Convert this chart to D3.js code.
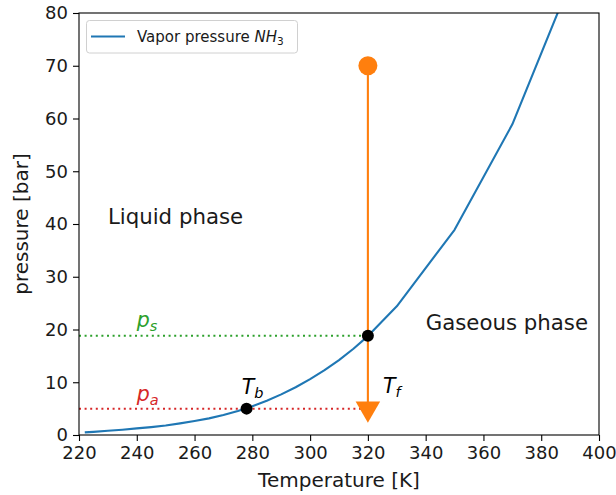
<!DOCTYPE html>
<html>
<head>
<meta charset="utf-8">
<script src="https://cdn.jsdelivr.net/npm/d3@7"></script>
<style>
  html, body { margin: 0; padding: 0; background: #fff; }
  svg { display: block; font-family: "DejaVu Sans", sans-serif; }
</style>
</head>
<body>
<svg id="chart" width="616" height="495"></svg>
<script>
// Saturation (vapor) pressure of ammonia, bar
const temperatures = [222, 225, 230, 235, 240, 245, 250, 255, 260, 265, 270, 275, 280, 285, 290, 295, 300, 305, 310, 315, 320, 330, 350, 370, 390];
const pressures    = [0.5, 0.6, 0.8, 1.0, 1.25, 1.5, 1.8, 2.2, 2.65, 3.15, 3.8, 4.55, 5.45, 6.5, 7.7, 9.05, 10.6, 12.3, 14.2, 16.35, 18.75, 24.4, 38.9, 58.9, 85.8];

const xTickValues = [220, 240, 260, 280, 300, 320, 340, 360, 380, 400];
const yTickValues = [0, 10, 20, 30, 40, 50, 60, 70, 80];

// Process points
const Tb = 278;      // boiling temperature at p_a
const Tf = 320;      // temperature at which p_s is reached
const pa = 5.0;      // low pressure level
const ps = 18.8;     // saturation pressure at Tf
const pStart = 70;   // starting pressure of the expansion

const svg = d3.select("#chart");
const margin = { left: 79, right: 17, top: 13, bottom: 60 };
const W = 616, H = 495;

const x = d3.scaleLinear().domain([220, 400]).range([margin.left, W - margin.right]);
const y = d3.scaleLinear().domain([0, 80]).range([H - margin.bottom, margin.top]);

const blue = "#1f77b4", orange = "#ff7f0e", green = "#2ca02c", red = "#d62728";
const ink = "#1a1a1a";

svg.append("defs").append("clipPath").attr("id", "plotClip")
  .append("rect")
  .attr("x", x(220)).attr("y", y(80))
  .attr("width", x(400) - x(220)).attr("height", y(0) - y(80));

const plot = svg.append("g").attr("clip-path", "url(#plotClip)");

// Dotted reference levels
plot.append("line")
  .attr("x1", x(220)).attr("x2", x(Tf))
  .attr("y1", y(ps)).attr("y2", y(ps))
  .attr("stroke", green).attr("stroke-width", 2).attr("stroke-dasharray", "2,3.6");
plot.append("line")
  .attr("x1", x(220)).attr("x2", x(Tf))
  .attr("y1", y(pa)).attr("y2", y(pa))
  .attr("stroke", red).attr("stroke-width", 2).attr("stroke-dasharray", "2,3.6");

// Vapor pressure curve
const line = d3.line().x((d, i) => x(temperatures[i])).y(d => y(d));
plot.append("path")
  .datum(pressures)
  .attr("d", line)
  .attr("fill", "none")
  .attr("stroke", blue).attr("stroke-width", 2.1)
  .attr("stroke-linejoin", "round");

// Expansion path from pStart down to pa
plot.append("line")
  .attr("x1", x(Tf)).attr("x2", x(Tf))
  .attr("y1", y(pStart)).attr("y2", y(pa))
  .attr("stroke", orange).attr("stroke-width", 2.1);
plot.append("circle")
  .attr("cx", x(Tf)).attr("cy", y(pStart)).attr("r", 9.5)
  .attr("fill", orange);
plot.append("path")
  .attr("d", d3.symbol().type(d3.symbolTriangle).size(260))
  .attr("transform", `translate(${x(Tf)},${y(pa)}) rotate(180)`)
  .attr("fill", orange);

// Marked states
plot.selectAll("circle.state")
  .data([[Tb, pa], [Tf, ps]])
  .join("circle")
  .attr("class", "state")
  .attr("cx", d => x(d[0])).attr("cy", d => y(d[1])).attr("r", 6)
  .attr("fill", "#000");

// Axes
const tickFont = 18;
const xAxis = svg.append("g")
  .attr("transform", `translate(0,${y(0)})`)
  .call(d3.axisBottom(x).tickValues(xTickValues).tickSize(6).tickPadding(5).tickFormat(d3.format("d")));
const yAxis = svg.append("g")
  .attr("transform", `translate(${x(220)},0)`)
  .call(d3.axisLeft(y).tickValues(yTickValues).tickSize(6).tickPadding(5).tickFormat(d3.format("d")));
[xAxis, yAxis].forEach(a => {
  a.select(".domain").remove();
  a.selectAll(".tick line").attr("stroke", "#000").attr("stroke-width", 1.1);
  a.selectAll(".tick text").attr("fill", ink).attr("font-size", tickFont)
    .attr("font-family", "DejaVu Sans, sans-serif");
});

// Frame
svg.append("rect")
  .attr("x", x(220)).attr("y", y(80))
  .attr("width", x(400) - x(220)).attr("height", y(0) - y(80))
  .attr("fill", "none").attr("stroke", "#000").attr("stroke-width", 1.1);

// Axis titles
svg.append("text")
  .attr("x", (x(220) + x(400)) / 2).attr("y", 487)
  .attr("text-anchor", "middle").attr("font-size", 20).attr("fill", ink)
  .text("Temperature [K]");
svg.append("text")
  .attr("transform", `translate(28,${(y(0) + y(80)) / 2}) rotate(-90)`)
  .attr("text-anchor", "middle").attr("font-size", 20).attr("fill", ink)
  .text("pressure [bar]");

// Phase labels
svg.append("text").attr("x", x(230)).attr("y", y(40))
  .attr("font-size", 21.3).attr("fill", ink).text("Liquid phase");
svg.append("text").attr("x", x(340)).attr("y", y(20))
  .attr("font-size", 21.3).attr("fill", ink).text("Gaseous phase");

// Symbol labels with subscripts
function subLabel(tx, ty, main, sub, color) {
  const t = svg.append("text").attr("x", x(tx)).attr("y", y(ty))
    .attr("font-size", 20.5).attr("fill", color).attr("font-style", "italic");
  t.append("tspan").text(main);
  t.append("tspan").attr("font-size", 14.5).attr("dy", 4).text(sub);
}
subLabel(240, 20.5, "p", "s", green);
subLabel(240, 6.4, "p", "a", red);
subLabel(276.3, 7.8, "T", "b", "#000");
subLabel(325.2, 8, "T", "f", "#000");

// Legend
const lg = svg.append("g");
lg.append("rect")
  .attr("x", 86.5).attr("y", 20.5).attr("width", 211).attr("height", 32.5).attr("rx", 3)
  .attr("fill", "#fff").attr("fill-opacity", 0.8).attr("stroke", "#d0d0d0").attr("stroke-width", 1);
lg.append("line")
  .attr("x1", 91).attr("x2", 125).attr("y1", 36.5).attr("y2", 36.5)
  .attr("stroke", blue).attr("stroke-width", 2.1);
const lt = lg.append("text").attr("x", 137).attr("y", 42).attr("font-size", 15).attr("fill", ink);
lt.append("tspan").text("Vapor pressure ");
lt.append("tspan").attr("font-style", "italic").text("NH");
lt.append("tspan").attr("font-size", 10.5).attr("dy", 2.5).text("3");
</script>
</body>
</html>
